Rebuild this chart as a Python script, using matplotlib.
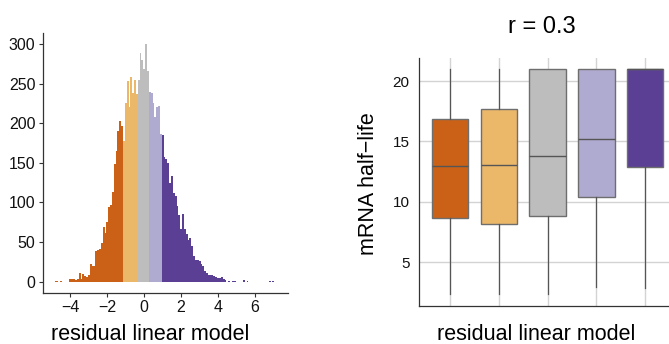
import numpy as np
import matplotlib
matplotlib.use('Agg')
import matplotlib.pyplot as plt

plt.rcParams['font.family'] = ['Liberation Sans', 'DejaVu Sans']

# histogram of residuals, bin width 0.1, first bin centred at -4.9
hist_start = -4.9
hist_width = 0.1
hist_counts = [
    0, 1, 1, 0, 1, 0, 0, 0, 0,                      # -4.9 .. -4.1
    3, 3, 4, 2, 4, 11, 3, 10, 7, 6,                 # -4.0 .. -3.1
    8, 23, 20, 20, 39, 40, 41, 49, 69, 62,          # -3.0 .. -2.1
    76, 94, 97, 113, 148, 165, 190, 203, 197, 177,  # -2.0 .. -1.1
    226, 253, 221, 258, 238, 254, 237, 255, 289, 280,  # -1.0 .. -0.1
    268, 300, 266, 240, 238, 226, 208, 221, 222, 187,  # 0.0 .. 0.9
    185, 157, 155, 150, 124, 134, 112, 108, 95, 84,    # 1.0 .. 1.9
    66, 85, 66, 60, 53, 55, 45, 32, 28, 28,            # 2.0 .. 2.9
    26, 22, 20, 13, 11, 9, 9, 8, 7, 6,                 # 3.0 .. 3.9
    5, 5, 6, 3, 2, 0, 1, 0, 1, 1,                      # 4.0 .. 4.9
    0, 0, 0, 0, 2, 0, 1, 0, 0, 0,                      # 5.0 .. 5.9
    0, 0, 0, 0, 0, 0, 0, 0, 1, 0,                      # 6.0 .. 6.9
    1, 0,                                              # 7.0 .. 7.1
]
group_breaks = [-1.15, -0.35, 0.25, 0.95]
group_colors = ['#cb6117', '#ebb86a', '#bdbdbd', '#afaad0', '#5a3f95']

# half-life boxplot per residual group
box_whislo = [2.36, 2.36, 2.36, 2.92, 2.84]
box_q1 = [8.69, 8.17, 8.86, 10.41, 12.89]
box_med = [13.0, 13.08, 13.78, 15.22, 21.0]
box_q3 = [16.85, 17.68, 21.0, 21.0, 21.0]
box_whishi = [21.0, 21.0, 21.0, 21.0, 21.0]

W, H = 669, 344
fig = plt.figure(figsize=(W / 100, H / 100), dpi=100)

def px_axes(x0, x1, y0, y1):
    return fig.add_axes([x0 / W, 1 - y1 / H, (x1 - x0) / W, (y1 - y0) / H])

# ---- left: histogram
ax1 = px_axes(42.5, 288, 33.3, 293.3)
centers = hist_start + hist_width * np.arange(len(hist_counts))
groups = np.digitize(centers, group_breaks)
ax1.bar(centers, hist_counts, width=hist_width,
        color=[group_colors[g] for g in groups], linewidth=0)
ax1.set_xlim(-5.51, 7.79)
ax1.set_ylim(-14.6, 313.5)
ax1.set_xticks([-4, -2, 0, 2, 4, 6])
ax1.set_yticks([0, 50, 100, 150, 200, 250, 300])
for s in ['top', 'right']:
    ax1.spines[s].set_visible(False)
for s in ['left', 'bottom']:
    ax1.spines[s].set_color('#333333')
    ax1.spines[s].set_linewidth(0.9)
ax1.tick_params(length=3, width=0.8, color='#333333', labelsize=11.5,
                labelcolor='#111111', pad=2)
fig.text(150 / W, 1 - 340 / H, 'residual linear model', fontsize=15.5,
         ha='center', va='baseline')

# ---- right: boxplot
ax2 = px_axes(419.3, 669, 57.5, 305.7)
stats = []
for lo, q1, med, q3, hi in zip(box_whislo, box_q1, box_med, box_q3, box_whishi):
    stats.append(dict(whislo=lo, q1=q1, med=med, q3=q3, whishi=hi, fliers=[]))
bp = ax2.bxp(stats, positions=range(1, 6), widths=0.75, patch_artist=True,
             showcaps=False, showfliers=False,
             boxprops=dict(edgecolor='#6e6e6e', linewidth=1.0),
             medianprops=dict(color='#555555', linewidth=1.0),
             whiskerprops=dict(color='#555555', linewidth=0.9), zorder=3)
for patch, c in zip(bp['boxes'], group_colors):
    patch.set_facecolor(c)
ax2.set_xlim(0.37, 5.49)
ax2.set_ylim(1.4, 21.95)
ax2.set_yticks([5, 10, 15, 20])
ax2.set_xticks(range(1, 6))
ax2.set_xticklabels([])
ax2.grid(True, color='#d3d3d3', linewidth=1.0, zorder=0)
ax2.set_axisbelow(True)
for s in ['top', 'right']:
    ax2.spines[s].set_visible(False)
for s in ['left', 'bottom']:
    ax2.spines[s].set_color('#333333')
    ax2.spines[s].set_linewidth(0.9)
ax2.tick_params(length=0, labelsize=11, labelcolor='#111111', pad=7)
fig.text(369 / W, 1 - 184 / H, 'mRNA half\u2212life', fontsize=15.5,
         rotation=90, ha='center', va='center')
fig.text(536 / W, 1 - 340 / H, 'residual linear model', fontsize=15.5,
         ha='center', va='baseline')
fig.text(542 / W, 1 - 33 / H, 'r = 0.3', fontsize=17,
         ha='center', va='baseline')

fig.savefig('out.png', dpi=100)
